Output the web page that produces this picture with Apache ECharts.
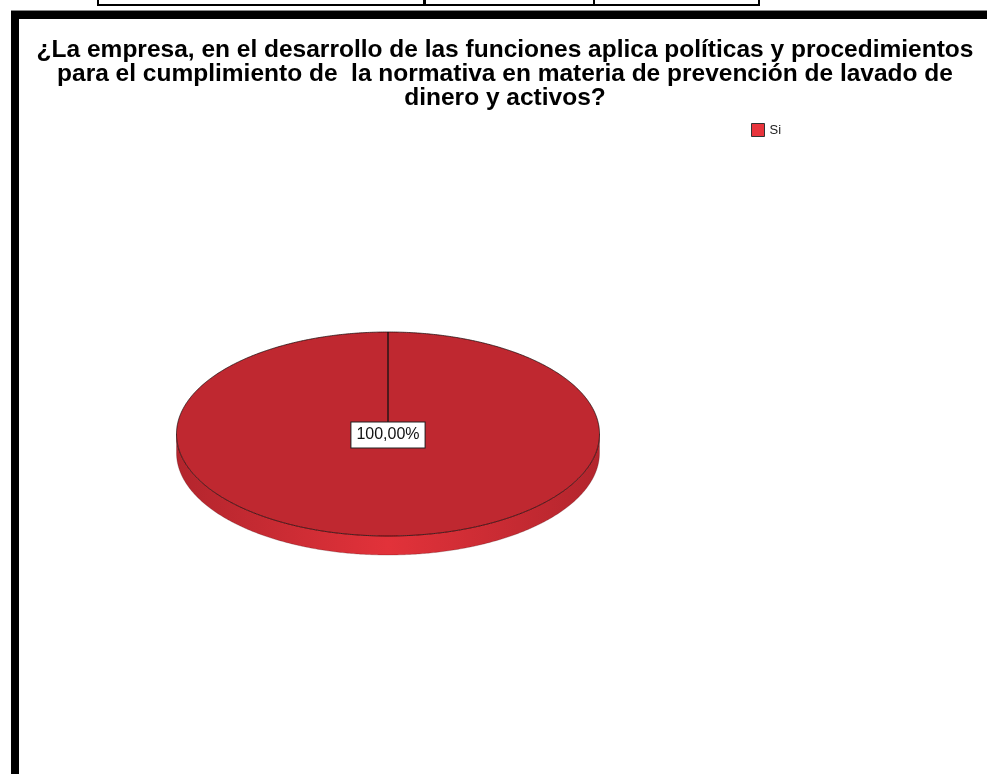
<!DOCTYPE html>
<html><head><meta charset="utf-8">
<script src="https://cdn.jsdelivr.net/npm/echarts@6/dist/echarts.min.js"></script>
<style>html,body{margin:0;padding:0;background:#fff}#c{width:987px;height:774px}</style>
</head><body><div id="c"></div>
<script>
const titleLines = [
  '¿La empresa, en el desarrollo de las funciones aplica políticas y procedimientos',
  'para el cumplimiento de  la normativa en materia de prevención de lavado de',
  'dinero y activos?'
];
const categories = ['Si'];
const values = [100];

const palette = { top: ['#bf2830'], side: ['#e2323a'], sideDark: ['#b3252d'], legend: ['#e8343c'] };
const total = values.reduce((a, b) => a + b, 0);
const CX = 388, CY = 434, RX = 211.5, RY = 102, DEPTH = 19;

function ellPt(theta, dy) { return [CX + RX * Math.cos(theta), CY + (dy || 0) - RY * Math.sin(theta)]; }
function fmtPct(p) { return p.toFixed(2).replace('.', ',') + '%'; }

function renderItem(params, api) {
  const v = api.value(0);
  const i = api.value(1);
  let before = 0;
  for (let k = 0; k < i; k++) before += values[k];
  const a0 = Math.PI / 2 - before / total * 2 * Math.PI;
  const a1 = a0 - v / total * 2 * Math.PI;
  const N = Math.max(8, Math.ceil(Math.abs(a1 - a0) / (Math.PI / 360)));
  const arc = [], front = [];
  for (let s = 0; s <= N; s++) {
    const t = a0 + (a1 - a0) * s / N;
    arc.push(ellPt(t));
    if (Math.sin(t) <= 1e-9) front.push(t);
  }
  const children = [];
  if (front.length > 1) {
    const pts = front.map(t => ellPt(t)).concat(front.slice().reverse().map(t => ellPt(t, DEPTH)));
    children.push({
      type: 'polygon', shape: { points: pts },
      style: {
        fill: { type: 'linear', x: CX - RX, y: 0, x2: CX + RX, y2: 0, global: true,
          colorStops: [{ offset: 0, color: palette.sideDark[i] }, { offset: 0.5, color: palette.side[i] }, { offset: 1, color: palette.sideDark[i] }] },
        stroke: 'rgba(60,10,12,0.3)', lineWidth: 0.8
      }
    });
  }
  const full = Math.abs(v - total) < 1e-9;
  const facePts = full ? arc : [[CX, CY]].concat(arc);
  children.push({ type: 'polygon', shape: { points: facePts },
    style: { fill: palette.top[i], stroke: 'rgba(20,5,5,0.7)', lineWidth: 1 } });
  const e0 = ellPt(a0), e1 = ellPt(a1);
  children.push({ type: 'line', shape: { x1: CX, y1: CY, x2: e0[0], y2: e0[1] }, style: { stroke: '#111', lineWidth: 1.3 } });
  if (!full) children.push({ type: 'line', shape: { x1: CX, y1: CY, x2: e1[0], y2: e1[1] }, style: { stroke: '#111', lineWidth: 1.3 } });
  const mid = (a0 + a1) / 2;
  const lp = full ? [CX, CY] : [CX + 0.6 * RX * Math.cos(mid), CY - 0.6 * RY * Math.sin(mid)];
  children.push({ type: 'text', x: lp[0], y: lp[1] + 1,
    style: { text: fmtPct(v / total * 100), fill: '#111', fontSize: 16, fontFamily: 'Liberation Sans',
      align: 'center', verticalAlign: 'middle', backgroundColor: '#fff', borderColor: '#222', borderWidth: 1, padding: [5, 5, 4, 5] } });
  return { type: 'group', children };
}

const chart = echarts.init(document.getElementById('c'));
chart.setOption({
  animation: false,
  title: {
    text: titleLines.join('\n'), left: 500, top: 33, textAlign: 'center',
    textStyle: { fontFamily: 'Liberation Sans', fontWeight: 'bold', fontSize: 24.5, lineHeight: 24, color: '#000' }
  },
  legend: {
    left: 751, top: 123, itemWidth: 13, itemHeight: 13, padding: 0, itemGap: 8,
    textStyle: { fontFamily: 'Liberation Sans', fontSize: 13, color: '#222' },
    data: categories.map((name, i) => ({ name, icon: 'rect', itemStyle: { color: palette.legend[i], borderColor: '#333', borderWidth: 1 } }))
  },
  graphic: [
    { type: 'rect', shape: { x: 98, y: -10, width: 661, height: 15 }, style: { fill: 'none', stroke: '#000', lineWidth: 2 } },
    { type: 'rect', shape: { x: 423, y: -10, width: 3, height: 15 }, style: { fill: '#000' } },
    { type: 'rect', shape: { x: 593, y: -10, width: 2, height: 15 }, style: { fill: '#000' } },
    { type: 'rect', shape: { x: 11, y: 11, width: 980, height: 8 }, style: { fill: '#000' } },
    { type: 'rect', shape: { x: 11, y: 11, width: 8, height: 770 }, style: { fill: '#000' } },
    { type: 'rect', shape: { x: 11, y: 10, width: 980, height: 1 }, style: { fill: '#888' } }
  ],
  series: categories.map((name, i) => ({
    type: 'custom', name, coordinateSystem: 'none', color: palette.legend[i],
    data: [[values[i], i]], renderItem
  }))
});
</script></body></html>
